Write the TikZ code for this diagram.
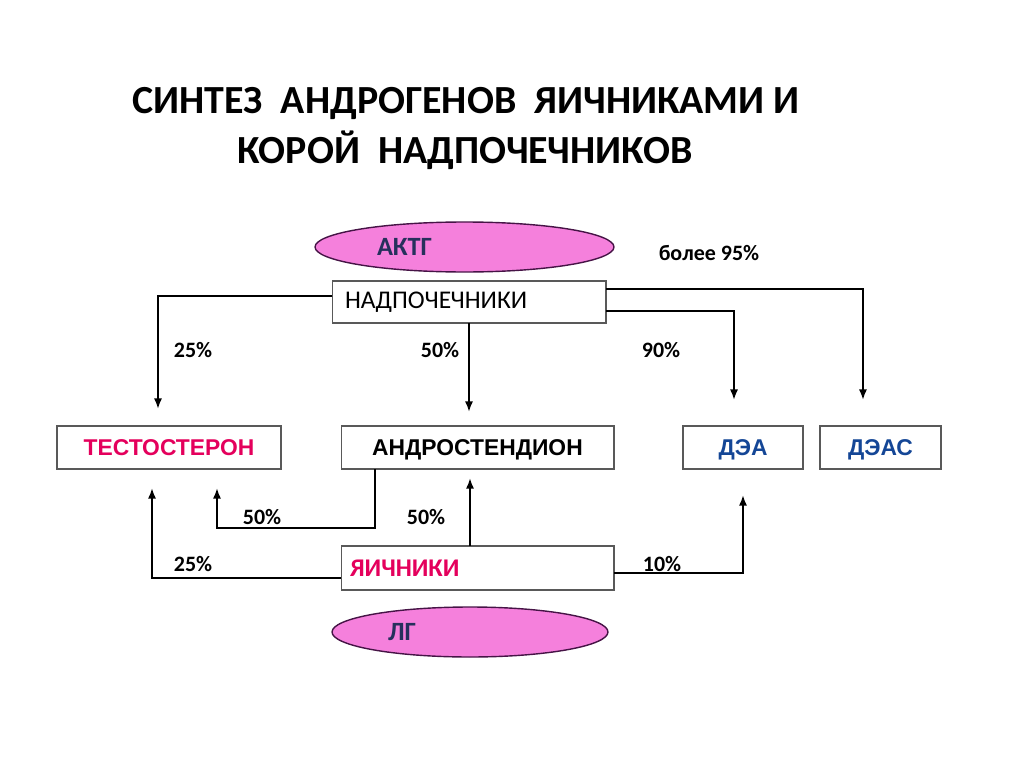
\documentclass[tikz,border=0pt]{standalone}
\usepackage{fontspec}
\setmainfont{Carlito}
\newfontfamily\arialfont{Liberation Sans}
\usetikzlibrary{positioning,shapes.geometric,arrows.meta}

\definecolor{glandpink}{RGB}{245,128,220}
\definecolor{glandline}{RGB}{70,20,70}
\definecolor{hormnavy}{RGB}{38,48,92}
\definecolor{testored}{RGB}{228,0,92}
\definecolor{deablue}{RGB}{20,70,150}

\begin{document}
\begin{tikzpicture}[>={Latex[length=6pt,width=4.6pt]},x=0.02cm,y=-0.02cm,
	box/.style={draw=gray!70!black,line width=0.6pt,minimum height=0.86cm,inner sep=0pt,outer sep=0pt},
	steroid/.style={box,text height=9.3pt,text depth=0pt,font=\arialfont\bfseries\fontsize{13}{15}\selectfont},
	hormone/.style={ellipse,draw=glandline,line width=0.8pt,fill=glandpink,minimum width=5.98cm,minimum height=1cm,inner sep=0pt,align=left,text=hormnavy,font=\bfseries\fontsize{15}{17}\selectfont},
	flow/.style={->,line width=1.1pt},
	pct/.style={font=\bfseries\fontsize{12.5}{14}\selectfont}]
	\useasboundingbox (0,0) rectangle (1024,767);

	\node [font=\bfseries\fontsize{22.7}{27}\selectfont] at (466,103) (title1) {СИНТЕЗ\ \ АНДРОГЕНОВ\ \ ЯИЧНИКАМИ И};
	\node [font=\bfseries\fontsize{22.7}{27}\selectfont] at (465,150) (title2) {КОРОЙ\ \ НАДПОЧЕЧНИКОВ};

	\node [hormone,text width=3.5cm] at (464.5,247) (actg) {АКТГ};
	\node [font=\bfseries\fontsize{12.5}{14}\selectfont] at (709,253) (more) {более 95\%};

	\node [box,minimum width=5.48cm,minimum height=0.84cm,inner xsep=0.26cm,text width=4.96cm,align=left,font=\fontsize{14.5}{17}\selectfont] at (469,302) (adrenal) {НАДПОЧЕЧНИКИ};

	\node [steroid,minimum width=4.48cm,text=testored] at (169,447.5) (testo) {ТЕСТОСТЕРОН};
	\node [steroid,minimum width=5.46cm] at (477.5,447.5) (andro) {АНДРОСТЕНДИОН};
	\node [steroid,minimum width=2.4cm,text=deablue] at (743,447.5) (dea) {ДЭА};
	\node [steroid,minimum width=2.42cm,text=deablue,right=0.34cm of dea] (deas) {ДЭАС};

	\node [box,minimum width=5.46cm,minimum height=0.88cm,inner xsep=0.18cm,text width=5.1cm,align=left,text=testored,font=\bfseries\fontsize{14.5}{17}\selectfont] at (477.5,568) (ovary) {ЯИЧНИКИ};
	\node [hormone,minimum width=5.52cm,text width=3.28cm] at (470,632) (lh) {ЛГ};

	% adrenal outputs
	\draw[flow,shorten >=0.34cm] ([yshift=0.12cm]adrenal.west) -| ([xshift=-0.22cm]testo.north);
	\draw[flow,shorten >=0.28cm] (adrenal.south) -- (adrenal.south|-andro.north);
	\draw[flow,shorten >=0.52cm] ([yshift=-0.18cm]adrenal.east) -| ([xshift=-0.18cm]dea.north);
	\draw[flow,shorten >=0.52cm] ([yshift=0.26cm]adrenal.east) -| ([xshift=-0.35cm]deas.north);

	% ovary outputs
	\draw[flow,shorten >=0.38cm] ([xshift=-2.05cm]andro.south) -- ++(0,59) -| ([xshift=0.96cm]testo.south);
	\draw[flow,shorten >=0.18cm] ([xshift=-0.15cm]ovary.north) -- ([xshift=-0.15cm]andro.south);
	\draw[flow,shorten >=0.38cm] ([yshift=-0.2cm]ovary.west) -| ([xshift=-0.34cm]testo.south);
	\draw[flow,shorten >=0.52cm] ([yshift=-0.1cm]ovary.east) -| (dea.south);

	\node [pct] at (193,350) (p25a) {25\%};
	\node [pct] at (440,350) (p50a) {50\%};
	\node [pct] at (661,350) (p90) {90\%};
	\node [pct] at (262,517) (p50b) {50\%};
	\node [pct] at (426,517) (p50c) {50\%};
	\node [pct] at (193,564) (p25b) {25\%};
	\node [pct] at (662,564) (p10) {10\%};
\end{tikzpicture}
\end{document}
